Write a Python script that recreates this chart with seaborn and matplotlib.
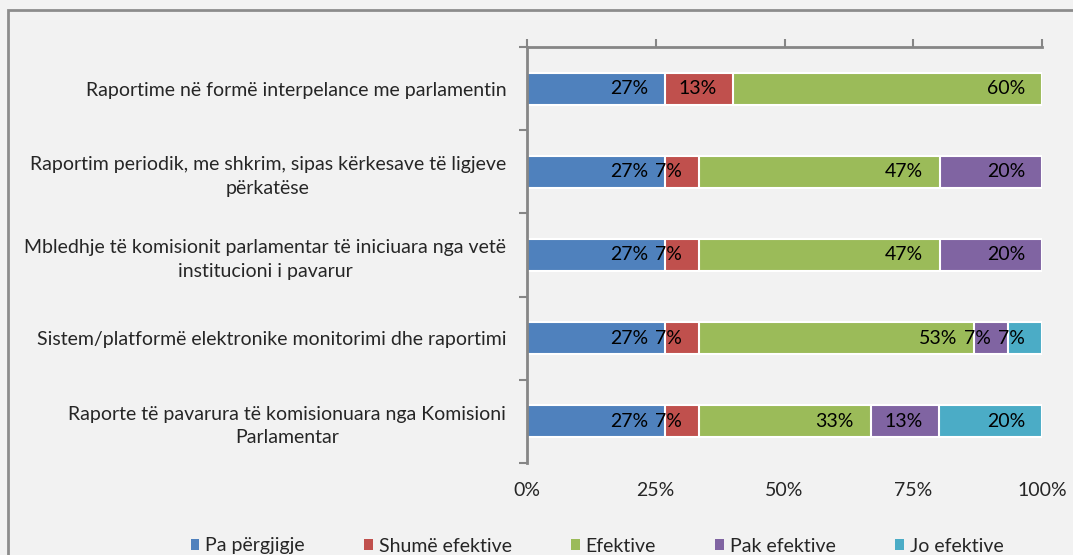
import numpy as np
import pandas as pd
import seaborn as sns
from matplotlib import pyplot as plt
from matplotlib.patches import Patch, Rectangle

# survey answers per item (percent of respondents)
categories = [
    "Raportime në formë interpelance me parlamentin",
    "Raportim periodik, me shkrim, sipas kërkesave të ligjeve\npërkatëse",
    "Mbledhje të komisionit parlamentar të iniciuara nga vetë\ninstitucioni i pavarur",
    "Sistem/platformë elektronike monitorimi dhe raportimi",
    "Raporte të pavarura të komisionuara nga Komisioni\nParlamentar",
]
responses = ["Pa përgjigje", "Shumë efektive", "Efektive", "Pak efektive", "Jo efektive"]
pa_pergjigje = [26.7, 26.7, 26.7, 26.7, 26.7]
shume_efektive = [13.3, 6.7, 6.7, 6.7, 6.7]
efektive = [60.0, 46.7, 46.7, 53.3, 33.3]
pak_efektive = [0.0, 20.0, 20.0, 6.7, 13.3]
jo_efektive = [0.0, 0.0, 0.0, 6.7, 20.0]
x_ticks = [0, 25, 50, 75, 100]
colors = ["#4f81bd", "#c0504d", "#9bbb59", "#8064a2", "#4bacc6"]

df = pd.DataFrame({
    "Kategoria": categories,
    responses[0]: pa_pergjigje,
    responses[1]: shume_efektive,
    responses[2]: efektive,
    responses[3]: pak_efektive,
    responses[4]: jo_efektive,
})
# stacked bars the seaborn way: draw the running totals, biggest first
# (rounding can push a total to 100.1, keep it inside the axis)
cum = df[responses].cumsum(axis=1).clip(upper=100)

sns.set_theme(style="white")
plt.rcParams["font.family"] = ["Lato", "DejaVu Sans"]
bg = "#f2f2f2"
axis_grey = "#868686"
fs = 14

fig = plt.figure(figsize=(10.73, 5.55), dpi=100, facecolor=bg)
ax = fig.add_axes([527 / 1073, 1 - 463 / 555, 515 / 1073, 416 / 555])
ax.set_facecolor(bg)

for resp, col in reversed(list(zip(responses, colors))):
    sns.barplot(x=cum[resp], y=df["Kategoria"], order=categories, orient="h",
                color=col, saturation=1, width=0.385, errorbar=None,
                edgecolor="white", linewidth=1.5, ax=ax)
    labels = [f"{v:.0f}%" if v > 0 else "" for v in df[resp]]
    texts = ax.bar_label(ax.containers[-1], labels=labels, label_type="edge",
                         padding=-12, fontsize=fs, color="black")
    for t in texts:
        t.set_ha("right")

ax.set_xlim(0, 100)
ax.set_xticks(x_ticks)
ax.set_xticklabels([f"{v}%" for v in x_ticks])
ax.set_yticks(np.arange(-0.5, len(categories), 1), minor=True)
ax.set_xlabel("")
ax.set_ylabel("")

for t in ax.get_yticklabels():
    t.set_multialignment("center")
    t.set_linespacing(1.45)

ax.tick_params(axis="x", which="major", top=True, bottom=False, labeltop=False,
               labelbottom=True, direction="out", length=6, width=1.5,
               color=axis_grey, labelsize=fs, pad=8)
ax.tick_params(axis="y", which="major", left=False, labelsize=fs, pad=9)
ax.tick_params(axis="y", which="minor", left=True, direction="out", length=6,
               width=1.5, color=axis_grey)

for side in ["bottom", "right"]:
    ax.spines[side].set_visible(False)
for side in ["top", "left"]:
    ax.spines[side].set_color(axis_grey)
    ax.spines[side].set_linewidth(2)

handles = [Patch(facecolor=c, edgecolor="none") for c in colors]
fig.legend(handles, responses, ncol=5, loc="center", frameon=False,
           bbox_to_anchor=(597 / 1073, 1 - 546 / 555), fontsize=fs,
           handlelength=0.45, handleheight=0.45, handletextpad=0.3,
           columnspacing=3.05)

# outer chart frame, cut off at right and bottom like the source
fig.patches.append(Rectangle((8 / 1073, -0.1), 1.2, 1 - 10 / 555 + 0.1,
                             transform=fig.transFigure, fill=False,
                             edgecolor="#8c8c8c", linewidth=2))

fig.savefig("out.png", dpi=100, facecolor=bg)
